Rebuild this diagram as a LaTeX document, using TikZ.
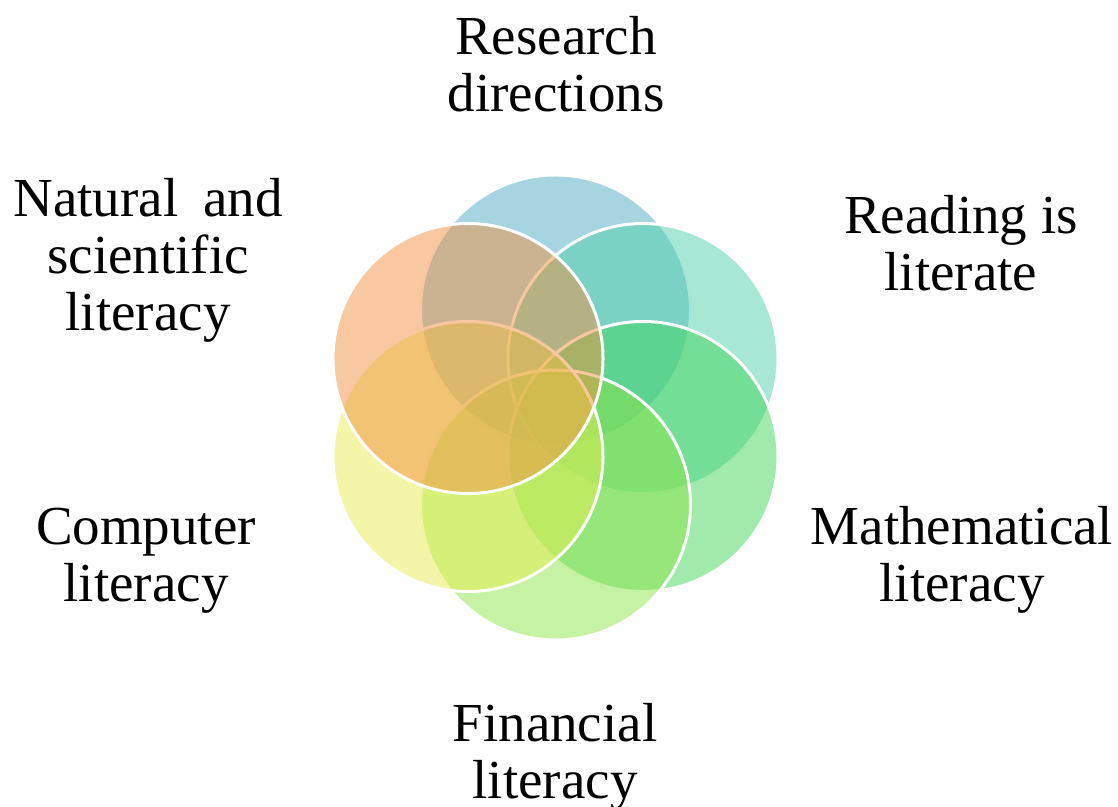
\documentclass[tikz,border=0pt]{standalone}
\usepackage{fontspec}
\setmainfont{Liberation Serif}
\usepackage{tikz}
\usetikzlibrary{
  positioning, calc
}
\usepackage{xcolor}

\definecolor{ringblue}{RGB}{77,169,193}
\definecolor{ringteal}{RGB}{77,209,169}
\definecolor{ringgreen}{RGB}{65,213,89}
\definecolor{ringlime}{RGB}{141,229,73}
\definecolor{ringyellow}{RGB}{229,237,77}
\definecolor{ringorange}{RGB}{241,145,65}

\tikzset{
  ring/.style={circle, draw=white, line width=1.5pt, fill opacity=0.5,
               minimum size=135pt, inner sep=0pt},
  ringtext/.style={font=\fontsize{27.5}{28.5}\selectfont, align=center,
                   inner sep=0pt, anchor=north}
}

\begin{document}
\begin{tikzpicture}[x=0.5pt, y=0.5pt]
    \useasboundingbox (0,0) rectangle (1118,807);
    \coordinate (hub) at (555.5,399.5);

    % overlapping rings, drawn from the top clockwise
    \node[ring, fill=ringblue]   (researchring)  at ($(hub)+(0,97.5)$)    {};
    \node[ring, fill=ringteal]   (readingring)   at ($(hub)+(87.5,49)$)   {};
    \node[ring, fill=ringgreen]  (mathring)      at ($(hub)+(87.5,-49)$)  {};
    \node[ring, fill=ringlime]   (financering)   at ($(hub)+(0,-97.5)$)   {};
    \node[ring, fill=ringyellow] (computerring)  at ($(hub)+(-87.5,-49)$) {};
    \node[ring, fill=ringorange] (naturalring)   at ($(hub)+(-87.5,49)$)  {};

    % captions
    \node[ringtext] (research) at (556,791) {Research\\directions};
    \node[ringtext] (reading)  at (961,612) {Reading is\\literate};
    \node[ringtext] (math)     at (962,301) {Mathematical\\literacy};
    \node[ringtext] (finance)  at (555,104) {Financial\\literacy};
    \node[ringtext] (computer) at (146,299) {Computer\\literacy};
    \node[ringtext] (natural)  at (148,629) {Natural\hspace{0.45em}and\\scientific\\literacy};
\end{tikzpicture}
\end{document}
